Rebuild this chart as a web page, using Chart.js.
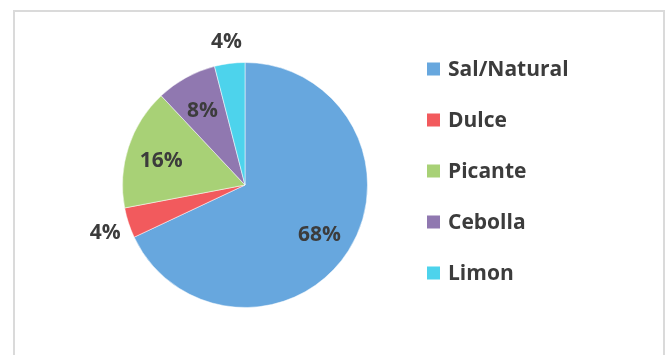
<!DOCTYPE html>
<html lang="es">
<head>
    <meta charset="UTF-8">
    <meta name="viewport" content="width=device-width, initial-scale=1.0">
    <title>Sabores preferidos</title>
    <script src="https://cdn.jsdelivr.net/npm/chart.js"></script>
    <style>
        html, body {
            margin: 0;
            padding: 0;
            background-color: #fff;
        }
        .frame {
            position: absolute;
            left: 13px;
            top: 10px;
            width: 652px;
            height: 370px;
            border: 2px solid #dadada;
            box-sizing: border-box;
        }
        .chart-container {
            position: absolute;
            left: 0;
            top: 0;
            width: 666px;
            height: 355px;
        }
    </style>
</head>
<body>
    <div class="frame"></div>
    <div class="chart-container">
        <canvas id="flavourPie"></canvas>
    </div>

    <script>
        const flavours = ['Sal/Natural', 'Dulce', 'Picante', 'Cebolla', 'Limon'];
        const percents = [68, 4, 16, 8, 4];
        const sliceColors = ['#67a7de', '#f25a5d', '#a8d176', '#9078b0', '#4dd3ec'];

        const textColor = '#3c3c3c';
        const fontFamily = '"Open Sans", sans-serif';

        // percentage labels: inside the big slices, outside the thin ones
        const sliceLabels = {
            id: 'sliceLabels',
            afterDatasetsDraw(chart) {
                const ctx = chart.ctx;
                const meta = chart.getDatasetMeta(0);
                ctx.save();
                ctx.font = `bold 21px ${fontFamily}`;
                ctx.fillStyle = textColor;
                ctx.textAlign = 'center';
                ctx.textBaseline = 'middle';
                meta.data.forEach((arc, i) => {
                    const p = arc.getProps(['x', 'y', 'startAngle', 'endAngle', 'outerRadius'], true);
                    const mid = (p.startAngle + p.endAngle) / 2;
                    const r = percents[i] < 5 ? p.outerRadius * 1.2 : p.outerRadius * 0.72;
                    ctx.fillText(percents[i] + '%', p.x + Math.cos(mid) * r, p.y + Math.sin(mid) * r + 3);
                });
                ctx.restore();
            }
        };

        // legend on the right, one row per flavour
        const sideLegend = {
            id: 'sideLegend',
            afterDraw(chart) {
                const ctx = chart.ctx;
                const left = 427, top = 69, gap = 51, box = 13;
                ctx.save();
                ctx.font = `bold 21px ${fontFamily}`;
                ctx.textBaseline = 'middle';
                flavours.forEach((name, i) => {
                    const y = top + i * gap;
                    ctx.fillStyle = sliceColors[i];
                    ctx.fillRect(left, y - box / 2, box, box);
                    ctx.fillStyle = textColor;
                    ctx.fillText(name, left + 21, y + 1);
                });
                ctx.restore();
            }
        };

        new Chart(document.getElementById('flavourPie'), {
            type: 'pie',
            data: {
                labels: flavours,
                datasets: [{
                    data: percents,
                    backgroundColor: sliceColors,
                    borderColor: 'rgba(255, 255, 255, 0.5)',
                    borderWidth: 1
                }]
            },
            options: {
                responsive: true,
                maintainAspectRatio: false,
                animation: false,
                layout: {
                    padding: { left: 122, right: 298, top: 62, bottom: 47 }
                },
                plugins: {
                    legend: { display: false },
                    tooltip: { enabled: false }
                }
            },
            plugins: [sliceLabels, sideLegend]
        });
    </script>
</body>
</html>
